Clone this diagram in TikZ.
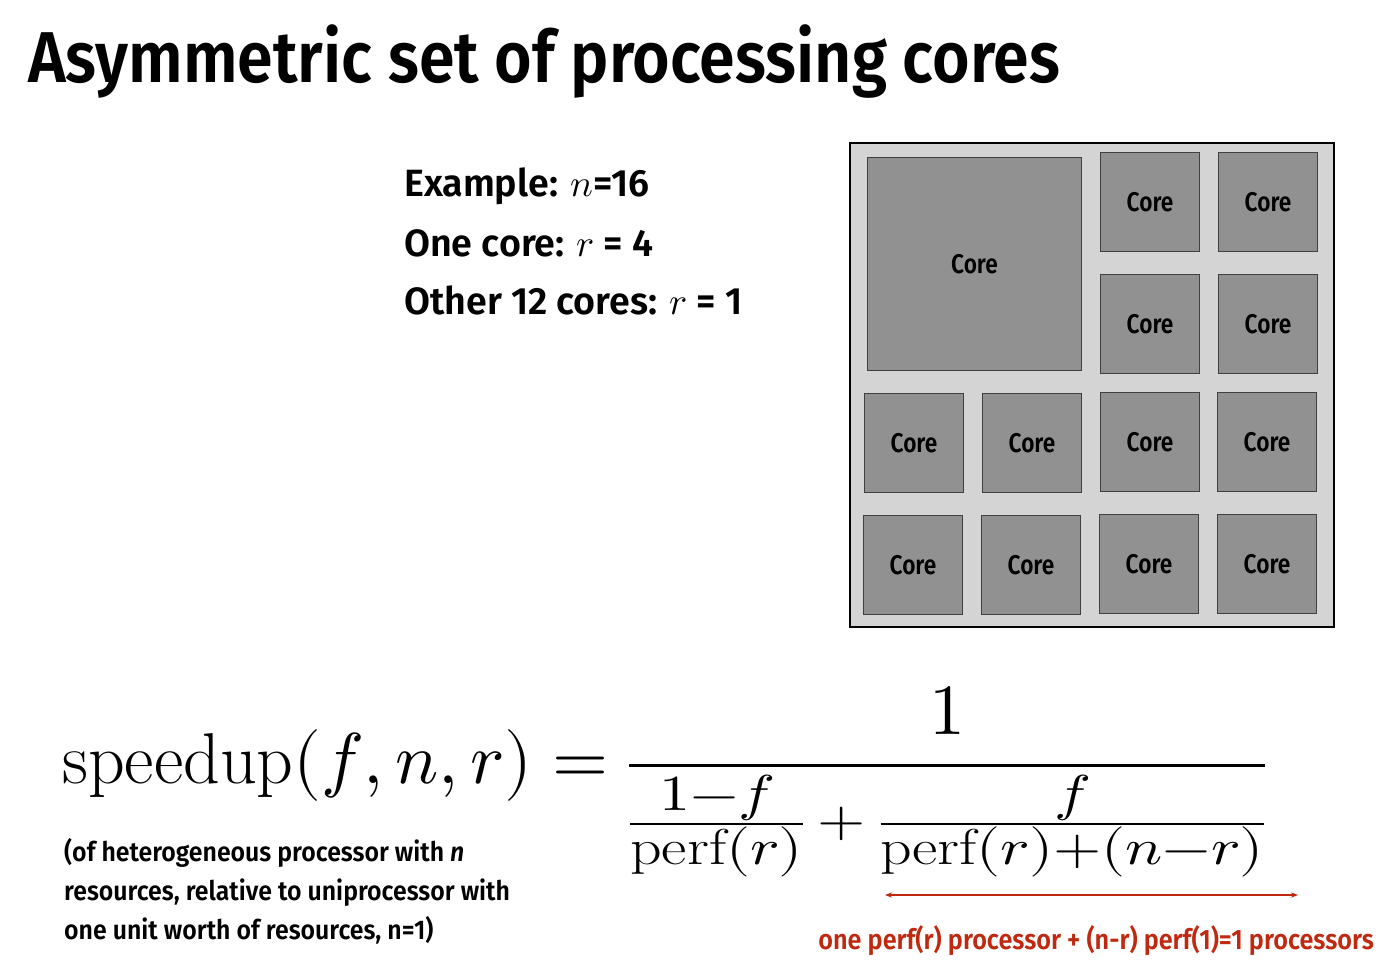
\documentclass[tikz,border=0pt]{standalone}
\usepackage{fontspec}
\usepackage{unicode-math}
\usepackage{graphicx}
\setmathfont{Latin Modern Math}
\newfontfamily\condT{Fira Sans SemiBold}[FakeStretch=0.895]
\newfontfamily\condA{Fira Sans SemiBold}[FakeStretch=0.84]
\newfontfamily\condN{Fira Sans SemiBold}[FakeStretch=0.92]
\newfontfamily\condB{Fira Sans SemiBold}[FakeStretch=0.99]
\newfontfamily\condR{Fira Sans SemiBold}[FakeStretch=0.9]
\usetikzlibrary{arrows.meta}
\definecolor{redc}{HTML}{C0280F}
\tikzset{core/.style={draw=black!75,line width=1.2pt,fill=black!43,inner sep=0pt,font=\condA\fontsize{27}{30}\selectfont},
 txt/.style={anchor=west,inner sep=0pt,font=\condB\fontsize{38}{42}\selectfont}}
\begin{document}
\begin{tikzpicture}[x=1pt,y=-1pt]
\useasboundingbox (0,0) rectangle (1391,969);
\node[anchor=west,inner sep=0pt,font=\condT\fontsize{72}{80}\selectfont] (title) at (28,62) {Asymmetric set of processing cores};
\node[txt] (l1) at (404,186) {Example: $n$=16};
\node[txt] (l2) at (404,243) {One core: $r$ = 4};
\node[txt] (l3) at (404,300) {Other 12 cores: $r$ = 1};
\draw[fill=black!17,line width=1.2pt] (850,143) rectangle (1334,627);
\node[core,minimum width=214,minimum height=213] (big) at (974.5,264) {Core};
\foreach \x/\y/\n in {1150/205/a,1268/205/b,1150/327/c,1268/327/d,
 914/446/e,1032/446/f,1150/445/g,1267/445/h,913/568/i,1031/568/j,1149/567/k,1267/567/l}
  \node[core,minimum width=99,minimum height=99] (\n) at (\x,\y-3) {Core};
\node[anchor=west,inner sep=0pt,font=\fontsize{72}{80}\selectfont] (eq) at (62,782)
 {$\displaystyle \mathrm{speedup}(f,n,r)=\frac{1}{\scalebox{0.86}[0.7]{$\frac{\textstyle 1{-}f}{\textstyle\mathrm{perf}(r)}+\frac{\textstyle f}{\textstyle\mathrm{perf}(r){+}(n{-}r)}$}}$};
\node[anchor=north west,inner sep=0pt,align=left,font=\condN\fontsize{27}{39}\selectfont] (note) at (64,838)
 {(of heterogeneous processor with \textit{n}\\resources, relative to uniprocessor with\\one unit worth of resources, n=1)};
\coordinate (a1) at (885,895); \coordinate (a2) at (1298,895);
\draw[redc,line width=1.5pt,{Stealth[length=7pt]}-{Stealth[length=7pt]}] (a1) -- (a2);
\node[anchor=east,inner sep=0pt,text=redc,font=\condR\fontsize{28}{30}\selectfont] (red) at (1374,941) {one perf(r) processor + (n-r) perf(1)=1 processors};
\end{tikzpicture}
\end{document}
